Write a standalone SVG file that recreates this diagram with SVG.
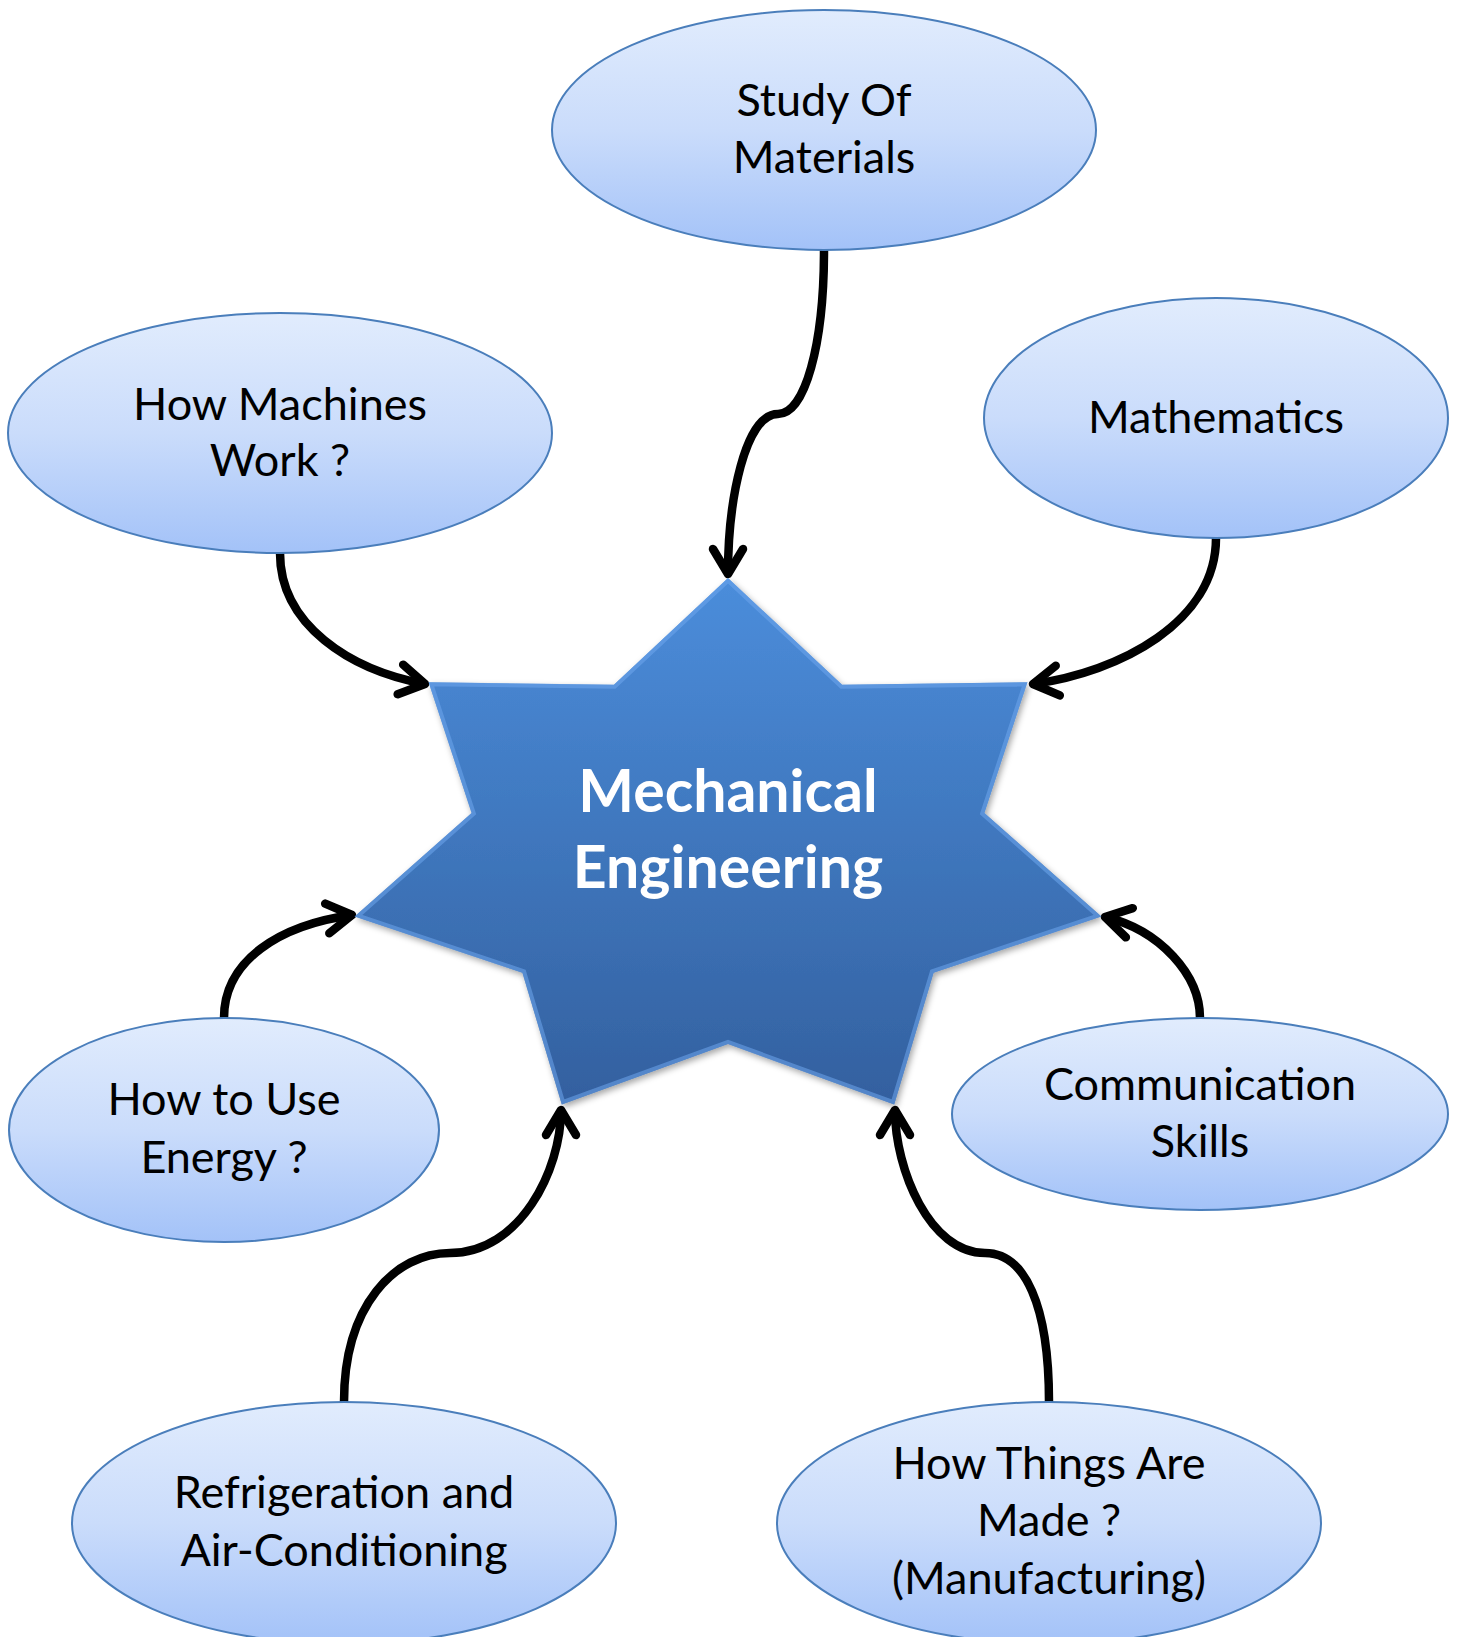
<svg xmlns="http://www.w3.org/2000/svg" width="1460" height="1637" viewBox="0 0 1460 1637">
  <defs>
    <linearGradient id="ellGrad" x1="0" y1="0" x2="0" y2="1">
      <stop offset="0" stop-color="#e1ecfd"/>
      <stop offset="0.5" stop-color="#cadcfb"/>
      <stop offset="1" stop-color="#a3c2f8"/>
    </linearGradient>
    <linearGradient id="starGrad" x1="0" y1="0" x2="0" y2="1">
      <stop offset="0" stop-color="#4b8ddb"/>
      <stop offset="1" stop-color="#33609f"/>
    </linearGradient>
    <filter id="shadow" x="-10%" y="-10%" width="120%" height="120%">
      <feDropShadow dx="2" dy="3" stdDeviation="3" flood-color="#000" flood-opacity="0.35"/>
    </filter>
    <clipPath id="starClip">
      <polygon points="728,578 842.1,684.7 1027.4,682.3 984.4,812.9 1101.4,916.6 933.6,972.8 894.2,1104.6 728,1044 561.8,1104.6 522.4,972.8 354.6,916.6 471.6,812.9 428.6,682.3 613.9,684.7"/>
    </clipPath>
    <marker id="arrow" markerUnits="userSpaceOnUse" markerWidth="50" markerHeight="50" viewBox="-35 -25 50 50" refX="0" refY="0" orient="auto">
      <path d="M -25 -15 L 0 0 L -25 15" fill="none" stroke="#000" stroke-width="8.5" stroke-linecap="round" stroke-linejoin="round"/>
    </marker>
    <style>
      .ell { fill: url(#ellGrad); stroke: #4a7ebb; stroke-width: 2; }
      .lbl { font-family: Lato, "Open Sans", sans-serif; font-size: 45px; fill: #000; text-anchor: middle; }
      .title { font-family: Lato, "Open Sans", sans-serif; font-weight: bold; font-size: 59px; fill: #fff; text-anchor: middle; }
      .conn { fill: none; stroke: #000; stroke-width: 8.5; marker-end: url(#arrow); }
    </style>
  </defs>

  <g id="connectors">
    <path class="conn" d="M 824 250 C 824 345 805 414 778 414 C 745 414 728 500 728 574"/>
    <path class="conn" d="M 280 553 C 280 625 350 670 425 684"/>
    <path class="conn" d="M 1216 538 C 1216 622 1120 672 1033 684"/>
    <path class="conn" d="M 224 1018 C 224 960 280 925 352 915"/>
    <path class="conn" d="M 1200 1018 C 1200 975 1160 930 1105 917"/>
    <path class="conn" d="M 344 1402 C 344 1305 395 1253 450 1253 C 520 1253 561 1170 561 1110"/>
    <path class="conn" d="M 1049 1402 C 1049 1305 1025 1253 985 1253 C 930 1253 895 1170 895 1110"/>
  </g>

  <g id="center-star">
    <polygon filter="url(#shadow)" fill="url(#starGrad)" points="728,578 842.1,684.7 1027.4,682.3 984.4,812.9 1101.4,916.6 933.6,972.8 894.2,1104.6 728,1044 561.8,1104.6 522.4,972.8 354.6,916.6 471.6,812.9 428.6,682.3 613.9,684.7"/>
    <polygon clip-path="url(#starClip)" fill="none" stroke="#6ea6ec" stroke-opacity="0.55" stroke-width="8" points="728,578 842.1,684.7 1027.4,682.3 984.4,812.9 1101.4,916.6 933.6,972.8 894.2,1104.6 728,1044 561.8,1104.6 522.4,972.8 354.6,916.6 471.6,812.9 428.6,682.3 613.9,684.7"/>
    <text class="title" x="728" y="812">Mechanical</text>
    <text class="title" x="728" y="888">Engineering</text>
  </g>

  <g id="node-materials">
    <ellipse class="ell" cx="824" cy="130" rx="272" ry="120"/>
    <text class="lbl" x="824" y="116">Study Of</text>
    <text class="lbl" x="824" y="173">Materials</text>
  </g>

  <g id="node-machines">
    <ellipse class="ell" cx="280" cy="433" rx="272" ry="120"/>
    <text class="lbl" x="280" y="420">How Machines</text>
    <text class="lbl" x="280" y="476">Work ?</text>
  </g>

  <g id="node-mathematics">
    <ellipse class="ell" cx="1216" cy="418" rx="232" ry="120"/>
    <text class="lbl" x="1216" y="433">Mathematics</text>
  </g>

  <g id="node-energy">
    <ellipse class="ell" cx="224" cy="1130" rx="215" ry="112"/>
    <text class="lbl" x="224" y="1115">How to Use</text>
    <text class="lbl" x="224" y="1173">Energy ?</text>
  </g>

  <g id="node-communication">
    <ellipse class="ell" cx="1200" cy="1114" rx="248" ry="96"/>
    <text class="lbl" x="1200" y="1100">Communication</text>
    <text class="lbl" x="1200" y="1157">Skills</text>
  </g>

  <g id="node-refrigeration">
    <ellipse class="ell" cx="344" cy="1523" rx="272" ry="121"/>
    <text class="lbl" x="344" y="1508">Refrigeration and</text>
    <text class="lbl" x="344" y="1566">Air-Conditioning</text>
  </g>

  <g id="node-manufacturing">
    <ellipse class="ell" cx="1049" cy="1523" rx="272" ry="121"/>
    <text class="lbl" x="1049" y="1479">How Things Are</text>
    <text class="lbl" x="1049" y="1536">Made ?</text>
    <text class="lbl" x="1049" y="1594">(Manufacturing)</text>
  </g>
</svg>
